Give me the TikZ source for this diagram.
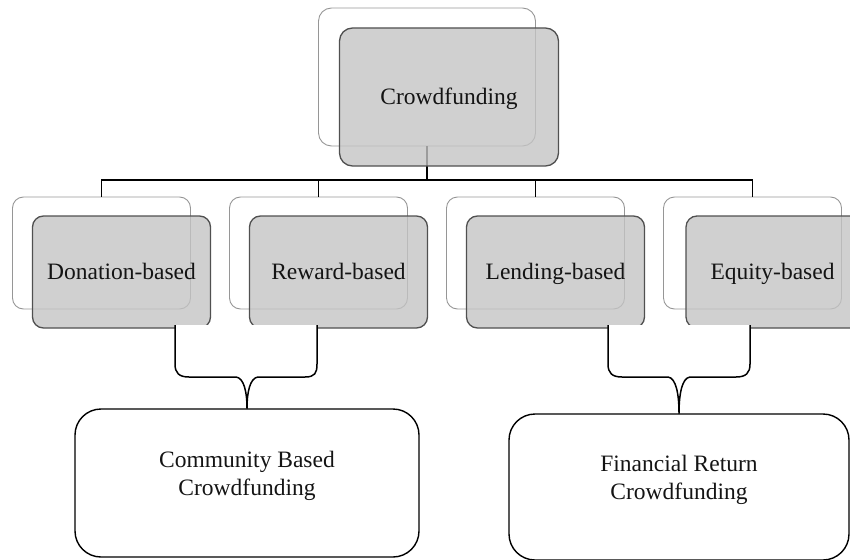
\documentclass[tikz,border=0pt]{standalone}
\usepackage{fontspec}
\setmainfont{Liberation Serif}
\definecolor{backline}{RGB}{150,150,150}
\definecolor{frontline}{RGB}{80,80,80}
\definecolor{boxfill}{RGB}{196,196,196}
\definecolor{txt}{RGB}{20,20,20}
\begin{document}
\begin{tikzpicture}[x=1pt,y=-1pt,
  labelfont/.style={font=\fontsize{23.5}{28}\selectfont, text=txt},
  backbox/.style={draw=backline, line width=0.9pt, rounded corners=11pt,
    minimum width=178pt, minimum height=112pt, inner sep=0pt},
  frontbox/.style={draw=frontline, line width=1.3pt, fill=boxfill,
    fill opacity=0.8, text opacity=1, rounded corners=11pt,
    minimum width=178pt, minimum height=112pt, inner sep=0pt, labelfont,
    text height=17pt, text depth=3pt},
  topback/.style={backbox, rounded corners=13pt, minimum width=217pt, minimum height=138pt},
  topfront/.style={frontbox, rounded corners=13pt, minimum width=219pt, minimum height=138pt},
  groupbox/.style={draw=black, line width=1.4pt, rounded corners=26pt,
    minimum width=344pt, minimum height=148pt, inner sep=0pt},
  link/.style={draw=black, line width=1.8pt},
  bracket/.style={draw=black, line width=1.5pt, line join=round},
]
\useasboundingbox (0,0) rectangle (850,559);
\clip (0,0) rectangle (850,559);

% back (outline) layer
\node[topback] (cfb) at (427,77) {};
\node[backbox] (donb) at (101.5,253) {};
\node[backbox] (rewb) at (318.5,253) {};
\node[backbox] (lenb) at (535.5,253) {};
\node[backbox] (equb) at (752.5,253) {};

% tree connectors
\coordinate (bus) at (427,180);
\draw[link] (cfb.south) -- (bus);
\draw[link] (donb.north) |- (bus);
\draw[link] (rewb.north) |- (bus);
\draw[link] (lenb.north) |- (bus);
\draw[link] (equb.north) |- (bus);

% front (filled) layer
\node[topfront] (cf) at (449,97) {Crowdfunding};
\node[frontbox] (don) at (121.5,272) {Donation-based};
\node[frontbox] (rew) at (338.5,272) {Reward-based};
\node[frontbox] (len) at (555.5,272) {Lending-based};
\node[frontbox] (equ) at (775,272) {\hspace*{-5pt}Equity-based};

% group boxes
\node[groupbox] (comm) at (247,483) {};
\node[labelfont, align=center] (commtxt) at (247,476) {Community Based\\Crowdfunding};
\node[groupbox, minimum width=340pt, minimum height=146pt] (fin) at (679,487) {};
\node[labelfont, align=center] (fintxt) at (679,480) {Financial Return\\Crowdfunding};

% brackets joining two categories into a group
\coordinate (la) at (175,325);
\coordinate (lb) at (317,325);
\coordinate (ra) at (608,325);
\coordinate (rb) at (750,325);

\fill[white] (la) -- (175,364) .. controls (175,373) and (179,377) .. (189,377)
  -- (236,377) .. controls (244,378) and (247,392) .. (comm.north)
  .. controls (247,392) and (250,378) .. (258,377) -- (305,377)
  .. controls (315,377) and (317,373) .. (317,364) -- (lb) -- cycle;
\draw[bracket] (la) -- (175,364) .. controls (175,373) and (179,377) .. (189,377)
  -- (236,377) .. controls (244,378) and (247,392) .. (comm.north)
  .. controls (247,392) and (250,378) .. (258,377) -- (305,377)
  .. controls (315,377) and (317,373) .. (317,364) -- (lb);

\fill[white] (ra) -- (608,364) .. controls (608,373) and (612,377) .. (622,377)
  -- (668,377) .. controls (676,378) and (679,394) .. (fin.north)
  .. controls (679,394) and (682,378) .. (690,377) -- (736,377)
  .. controls (746,377) and (750,373) .. (750,364) -- (rb) -- cycle;
\draw[bracket] (ra) -- (608,364) .. controls (608,373) and (612,377) .. (622,377)
  -- (668,377) .. controls (676,378) and (679,394) .. (fin.north)
  .. controls (679,394) and (682,378) .. (690,377) -- (736,377)
  .. controls (746,377) and (750,373) .. (750,364) -- (rb);
\end{tikzpicture}
\end{document}
